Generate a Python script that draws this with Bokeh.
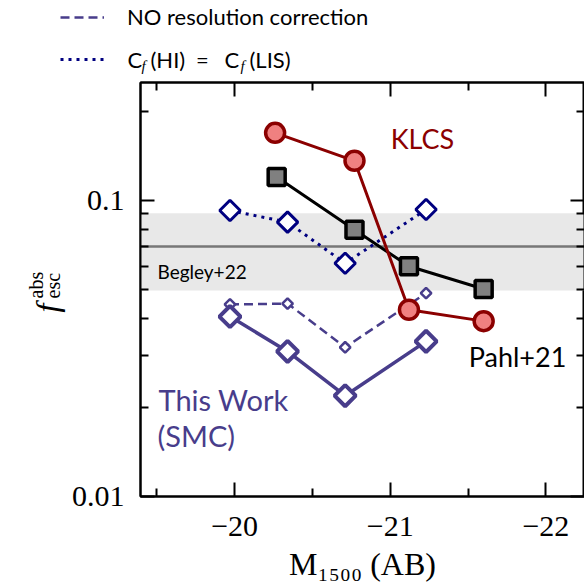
import math
from bokeh.plotting import figure
from bokeh.layouts import column, row
from bokeh.models import (Range1d, FixedTicker, LinearAxis, LogAxis, BoxAnnotation,
                          Span, Label, Legend, LegendItem)
from bokeh.embed import file_html
from bokeh.resources import INLINE

# ---------------- data ----------------
mag_this = [-19.97, -20.34, -20.71, -21.23]
fesc_this = [0.0405, 0.0309, 0.0219, 0.0334]
fesc_nores = [0.0445, 0.0448, 0.0319, 0.0486]
fesc_hi = [0.0924, 0.0844, 0.0613, 0.0931]

mag_klcs = [-20.26, -20.77, -21.12, -21.60]
fesc_klcs = [0.169, 0.136, 0.0427, 0.0391]

mag_pahl = [-20.27, -20.77, -21.12, -21.60]
fesc_pahl = [0.120, 0.0795, 0.0599, 0.0502]

begley_mid = 0.0698
begley_lo = 0.0496
begley_hi = 0.0904

x_major = [-20, -21, -22]
x_minor = [-19.5, -20.5, -21.5]
x_labels = ["\u221220", "\u221221", "\u221222"]
y_major = [0.01, 0.1]
y_minor = [0.02, 0.03, 0.04, 0.05, 0.06, 0.07, 0.08, 0.09, 0.2]
y_labels = ["0.01", "0.1"]

PURPLE = "#483d8b"
NAVY = "#000080"
DARKRED = "#8b0000"
CORAL = "#f08080"
SERIF = "Liberation Serif"
SANS = "Lato"

HEAD_H = 80
BODY_H = 507
YLAB_W = 66


def lab(fig, text, x, y, size, color="black", font=SANS, align="left",
        baseline="alphabetic", style="normal", angle=0.0):
    fig.add_layout(Label(text=text, x=x, y=y, x_units="screen", y_units="screen",
                         text_font=font, text_font_size=size, text_color=color,
                         text_align=align, text_baseline=baseline,
                         text_font_style=style, angle=angle))


# ---------------- main plot ----------------
p = figure(width=584 - YLAB_W, height=BODY_H, output_backend="svg", toolbar_location=None,
           x_range=Range1d(-19.395, -22.248), y_range=Range1d(0.01, 0.25),
           y_axis_type="log", min_border_left=140 - YLAB_W, min_border_right=0,
           min_border_top=2, min_border_bottom=91)
p.xgrid.visible = False
p.ygrid.visible = False
p.outline_line_color = "black"
p.outline_line_width = 2
p.background_fill_color = "white"
p.border_fill_color = "white"


def style_axis(ax, major, minor, labels, show):
    ax.ticker = FixedTicker(ticks=major, minor_ticks=minor)
    ax.major_tick_in = 14
    ax.major_tick_out = 0
    ax.minor_tick_in = 8
    ax.minor_tick_out = 0
    ax.major_tick_line_width = 2
    ax.minor_tick_line_width = 2
    ax.major_tick_line_color = "black"
    ax.minor_tick_line_color = "black"
    ax.axis_line_width = 2
    ax.axis_line_color = "black"
    if show:
        ax.major_label_overrides = {m: l for m, l in zip(major, labels)}
        ax.major_label_text_font = SERIF
        ax.major_label_text_font_size = "30px"
        ax.major_label_text_color = "black"
    else:
        ax.major_label_overrides = {m: "" for m in major}
        ax.major_label_text_font_size = "0px"
        ax.major_label_standoff = 0


style_axis(p.xaxis[0], x_major, x_minor, x_labels, True)
p.xaxis[0].major_label_standoff = 20
p.xaxis[0].axis_label = "M\u2081\u2085\u2080\u2080 (AB)"
p.xaxis[0].axis_label_text_font = SERIF
p.xaxis[0].axis_label_text_font_size = "32px"
p.xaxis[0].axis_label_text_font_style = "normal"
p.xaxis[0].axis_label_text_color = "black"
p.xaxis[0].axis_label_standoff = 7
style_axis(p.yaxis[0], y_major, y_minor, y_labels, True)
p.yaxis[0].major_label_standoff = 16

top_ax = LinearAxis()
style_axis(top_ax, x_major, x_minor, x_labels, False)
p.add_layout(top_ax, "above")
right_ax = LogAxis()
style_axis(right_ax, y_major, y_minor, y_labels, False)
p.add_layout(right_ax, "right")

# Begley+22 band and line
p.add_layout(BoxAnnotation(bottom=begley_lo, top=begley_hi, fill_color="#e8e8e8",
                           fill_alpha=1.0, line_color=None, level="underlay"))
p.add_layout(Span(location=begley_mid, dimension="width", line_color="#777777",
                  line_width=2.5, level="underlay"))

NORES_STYLE = dict(line_color=PURPLE, line_width=2.5, line_dash="9 5")
HI_STYLE = dict(line_color=NAVY, line_width=3, line_dash="3 5")

# NO resolution correction
p.line(mag_this, fesc_nores, **NORES_STYLE)
p.scatter(mag_this, fesc_nores, marker="square", angle=math.pi / 4, size=7.5,
          line_color=PURPLE, line_width=2.5, fill_color="white")

# Cf(HI) = Cf(LIS)
p.line(mag_this, fesc_hi, **HI_STYLE)
p.scatter(mag_this, fesc_hi, marker="square", angle=math.pi / 4, size=14.5,
          line_color=NAVY, line_width=3, fill_color="white")

# This work
p.line(mag_this, fesc_this, line_color=PURPLE, line_width=3.5)
p.scatter(mag_this, fesc_this, marker="square", angle=math.pi / 4, size=15,
          line_color=PURPLE, line_width=4, fill_color="white")

# Pahl+21
p.line(mag_pahl, fesc_pahl, line_color="black", line_width=3)
p.scatter(mag_pahl, fesc_pahl, marker="square", size=17, line_color="black",
          line_width=3.5, fill_color="#808080")

# KLCS
p.line(mag_klcs, fesc_klcs, line_color=DARKRED, line_width=3)
p.scatter(mag_klcs, fesc_klcs, marker="circle", size=19, line_color=DARKRED,
          line_width=3.5, fill_color=CORAL)

# annotations in the plot (screen px from the frame's bottom-left corner)
lab(p, "KLCS", 282, 358, "27px", color=DARKRED, align="center")
lab(p, "Pahl+21", 377, 140, "27px", align="center")
lab(p, "This Work", 18, 97, "29px", color=PURPLE)
lab(p, "(SMC)", 17, 61, "29px", color=PURPLE)
lab(p, "Begley+22", 17, 225, "19px")

# ---------------- header with the legend ----------------
head = figure(width=584, height=HEAD_H, output_backend="svg", toolbar_location=None,
              x_range=Range1d(0, 1), y_range=Range1d(0, 1), min_border=0,
              x_axis_location=None, y_axis_location=None)
head.grid.visible = False
head.outline_line_color = None
head.background_fill_color = "white"
head.border_fill_color = "white"
# key renderers reuse the series data; they fall outside this strip's ranges
nores_key = head.line(mag_this, fesc_nores, **NORES_STYLE)
hi_key = head.line(mag_this, fesc_hi, **HI_STYLE)
legend = Legend(items=[LegendItem(label="NO resolution correction", renderers=[nores_key]),
                       LegendItem(label=" ", renderers=[hi_key])],
                location=(60, 8), orientation="vertical", glyph_width=44,
                glyph_height=26, label_height=26, spacing=16, padding=0, margin=0,
                label_standoff=23, border_line_color=None, background_fill_alpha=0,
                label_text_font=SANS, label_text_font_size="22px",
                label_text_color="black")
head.add_layout(legend)

# second legend row text: C_f(HI) = C_f(LIS)
lab(head, "C", 127, 21, "22px", baseline="middle")
lab(head, "f", 141, 15, "15px", baseline="middle", style="italic", font=SERIF)
lab(head, "(HI)", 150, 21, "22px", baseline="middle")
lab(head, "=", 202, 21, "22px", baseline="middle", align="center")
lab(head, "C", 224, 21, "22px", baseline="middle")
lab(head, "f", 240, 15, "15px", baseline="middle", style="italic", font=SERIF)
lab(head, "(LIS)", 249, 21, "22px", baseline="middle")

# ---------------- y axis label f_esc^abs ----------------
ylab = figure(width=YLAB_W, height=BODY_H, output_backend="svg", toolbar_location=None,
              x_range=Range1d(0, 1), y_range=Range1d(0, 1), min_border=0,
              x_axis_location=None, y_axis_location=None)
ylab.grid.visible = False
ylab.outline_line_color = None
ylab.background_fill_color = "white"
ylab.border_fill_color = "white"
# the row aligns this strip's frame with the main frame (page y 82..496)
FB = 496
lab(ylab, "f", 46, FB - 312, "32px", font=SERIF, style="italic", angle=math.pi / 2)
lab(ylab, "abs", 35, FB - 298, "20px", font=SERIF, angle=math.pi / 2)
lab(ylab, "esc", 52, FB - 298, "20px", font=SERIF, angle=math.pi / 2)

layout = column(head, row(ylab, p, spacing=0), spacing=0)
open("out.html", "w").write(file_html(layout, INLINE))
